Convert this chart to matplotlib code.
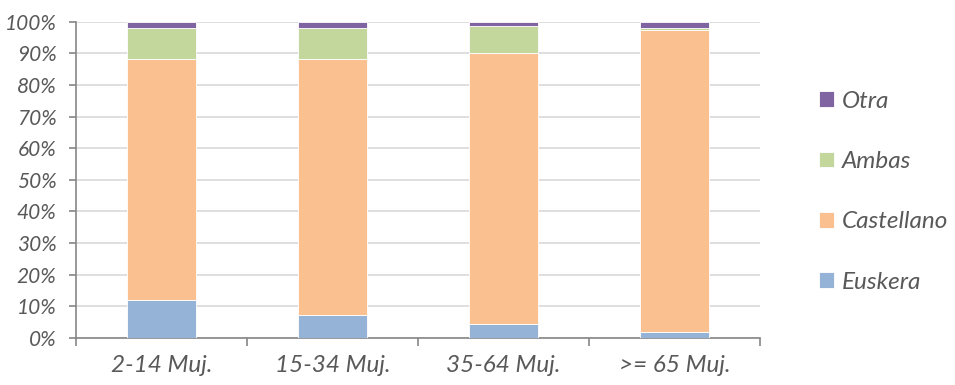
import matplotlib
matplotlib.use("Agg")
import matplotlib.pyplot as plt
import numpy as np
from matplotlib.ticker import FixedLocator, PercentFormatter

categories = ["2-14 Muj.", "15-34 Muj.", "35-64 Muj.", ">= 65 Muj."]
euskera = [12.1, 7.4, 4.5, 2.0]
castellano = [76.0, 80.8, 85.7, 95.2]
ambas = [10.0, 9.7, 8.3, 0.9]
otra = [1.9, 2.1, 1.5, 1.9]

series = [("Euskera", euskera, "#95B3D7"),
          ("Castellano", castellano, "#FAC090"),
          ("Ambas", ambas, "#C3D69B"),
          ("Otra", otra, "#8064A2")]

plt.rcParams['font.family'] = ['Lato', 'DejaVu Sans']
text_color = "#595959"

fig = plt.figure(figsize=(9.55, 3.85), dpi=100)
ax = fig.add_axes([0.0796, 0.122, 0.7164, 0.822])

x = np.arange(len(categories))
bottom = np.zeros(len(categories))
handles = []
for name, vals, color in series:
    vals = np.array(vals)
    b = ax.bar(x, vals, bottom=bottom, width=0.4, color=color,
               edgecolor="white", linewidth=0.6, label=name, zorder=3)
    handles.append(b)
    bottom += vals

ax.set_xlim(-0.5, len(categories) - 0.5)
ax.set_ylim(0, 100)
ax.yaxis.set_major_locator(FixedLocator(np.arange(0, 101, 10)))
ax.yaxis.set_major_formatter(PercentFormatter(decimals=0))
ax.grid(axis="y", color="#D9D9D9", linewidth=1.2, zorder=0)
ax.set_axisbelow(True)

for s in ["top", "right"]:
    ax.spines[s].set_visible(False)
for s in ["left", "bottom"]:
    ax.spines[s].set_color("#868686")
    ax.spines[s].set_linewidth(1.2)

ax.set_xticks(x)
ax.set_xticklabels(categories, fontsize=17.5, style="italic", color=text_color)
ax.tick_params(axis="x", which="major", length=0, pad=12)
ax.set_xticks(np.arange(-0.5, len(categories), 1), minor=True)
ax.tick_params(axis="x", which="minor", length=6, width=1.2, color="#868686")
ax.tick_params(axis="y", length=5, width=1.2, color="#868686", pad=9,
               labelsize=15, labelcolor=text_color)
for lab in ax.get_yticklabels():
    lab.set_fontstyle("italic")

leg = fig.legend(handles[::-1], [s[0] for s in series][::-1],
                 loc="center left", bbox_to_anchor=(0.858, 0.502),
                 frameon=False, prop={"size": 17.5, "style": "italic"},
                 labelspacing=1.62, handlelength=0.62, handleheight=0.62,
                 handletextpad=0.3, borderaxespad=0, borderpad=0)
for t in leg.get_texts():
    t.set_color(text_color)

fig.savefig("out.png", dpi=100)
